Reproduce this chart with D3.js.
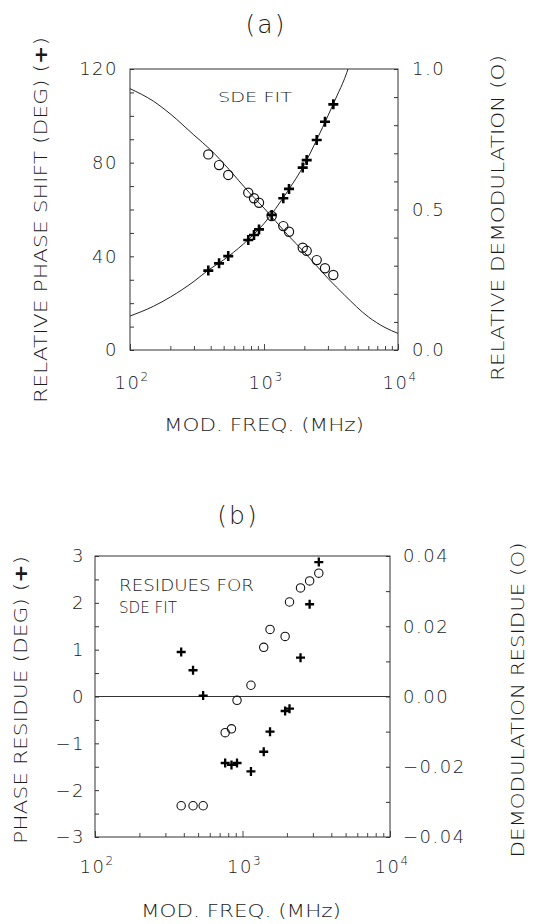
<!DOCTYPE html>
<html><head><meta charset="utf-8">
<script src="https://cdn.jsdelivr.net/npm/d3@7"></script>
<style>
html,body{margin:0;padding:0;background:#fff;}
svg{display:block;background:#fff;}
text{font-family:"DejaVu Sans","Liberation Sans",sans-serif;font-weight:200;fill:#1a1a1a;}
</style></head><body>
<svg id="chart" width="535" height="924"></svg>
<script>
// ---------- data ----------
const freqMHz        = [384, 462, 541, 763, 842, 918, 1141, 1393, 1537, 1945, 2083, 2474, 2852, 3291];
const phaseShiftDeg  = [33.9, 37.0, 40.1, 47.0, 49.1, 51.5, 57.7, 64.8, 68.8, 77.9, 81.1, 89.7, 97.5, 104.9];
const relDemod       = [0.696, 0.658, 0.623, 0.560, 0.540, 0.524, 0.477, 0.441, 0.421, 0.364, 0.353, 0.320, 0.291, 0.267];

const phaseFitFreq   = [100, 150, 200, 300, 384, 500, 700, 1000, 1500, 2000, 2500, 3000, 3500, 4000, 4300];
const phaseFitDeg    = [14.5, 18.7, 22.6, 29.3, 34.1, 38.5, 45.2, 54.0, 67.8, 79.2, 90.3, 100.0, 108.5, 116.0, 121.0];
const demodFitFreq   = [100, 150, 200, 300, 400, 550, 770, 1000, 1500, 2000, 3000, 4000, 6000, 8000, 10000];
const demodFitVal    = [0.930, 0.885, 0.840, 0.765, 0.712, 0.642, 0.562, 0.505, 0.410, 0.348, 0.255, 0.195, 0.118, 0.080, 0.059];

const phaseResidueDeg = [0.95, 0.56, 0.02, -1.42, -1.46, -1.42, -1.60, -1.18, -0.75, -0.31, -0.26, 0.83, 1.97, 2.87];
const demodResidue    = [-0.0311, -0.0311, -0.0311, -0.0103, -0.0092, -0.0011, 0.0032, 0.0140, 0.0191, 0.0171, 0.0269, 0.0309, 0.0329, 0.0351];

const xTickExponents     = [2, 3, 4];
const phaseTickLabels    = [0, 40, 80, 120];
const demodTickLabels    = ["0.0", "0.5", "1.0"];
const phaseResTickLabels = [-3, -2, -1, 0, 1, 2, 3];
const demodResTickLabels = ["-0.04", "-0.02", "0.00", "0.02", "0.04"];

// ---------- drawing ----------
const svg = d3.select("#chart");
const minus = s => String(s).replace("-", "\u2212");
const logMinor = [];
for (let e = 2; e <= 3; e++) for (let m = 1; m <= 9; m++) logMinor.push(m * Math.pow(10, e));
logMinor.push(10000);

function plusPath(h){ return `M${-h},0H${h}M0,${-h}V${h}`; }

function frame(g, x0, x1, y0, y1){
  g.append("rect").attr("x", x0).attr("y", y0).attr("width", x1 - x0).attr("height", y1 - y0)
    .attr("fill", "none").attr("stroke", "#333").attr("stroke-width", 1);
}

function bottomLog(g, x, y1){
  const ax = d3.axisBottom(x).tickValues(logMinor).tickSize(0).tickFormat("");
  const a = g.append("g").attr("transform", `translate(0,${y1})`).call(ax);
  a.select(".domain").remove();
  a.selectAll(".tick line").attr("y2", d => (Math.log10(d) % 1 === 0) ? -6 : -4)
    .attr("stroke", "#333").attr("stroke-width", 0.9);
}

function expLabels(g, x, baseY){
  xTickExponents.forEach(e => {
    const t = g.append("text").attr("x", x(Math.pow(10, e)) + 2).attr("y", baseY)
      .attr("text-anchor", "middle").style("font-size", "18px").style("letter-spacing", "1.5px");
    t.append("tspan").text("10");
    t.append("tspan").attr("dy", -8).style("font-size", "12px").text(e);
  });
}

function rotTitle(g, x, y, main, len, size){
  const t = g.append("text").attr("transform", `translate(${x},${y}) rotate(-90)`)
    .attr("text-anchor", "middle").attr("dy", "0.36em").style("font-size", size + "px")
    .attr("textLength", len).attr("lengthAdjust", "spacingAndGlyphs");
  main.forEach(p => {
    const s = t.append("tspan").text(p.t);
    if (p.b) s.style("font-weight", "700");
  });
}

// ======== Panel (a) ========
{
  const X0 = 130, X1 = 398, Y0 = 69, Y1 = 350;
  const g = svg.append("g");
  const x = d3.scaleLog().domain([100, 10000]).range([X0, X1]);
  const yL = d3.scaleLinear().domain([0, 120]).range([Y1, Y0]);
  const yR = d3.scaleLinear().domain([0, 1]).range([Y1, Y0]);

  svg.append("defs").append("clipPath").attr("id", "clipA")
    .append("rect").attr("x", X0).attr("y", Y0).attr("width", X1 - X0).attr("height", Y1 - Y0);

  frame(g, X0, X1, Y0, Y1);
  const la = g.append("g").attr("transform", `translate(${X0},0)`)
    .call(d3.axisLeft(yL).tickValues(d3.range(0, 121, 10)).tickSize(-4).tickFormat(""));
  la.select(".domain").remove(); la.selectAll("line").attr("stroke", "#333");
  const ra = g.append("g").attr("transform", `translate(${X1},0)`)
    .call(d3.axisRight(yR).tickValues(d3.range(0, 1.001, 0.1)).tickSize(-4).tickFormat(""));
  ra.select(".domain").remove(); ra.selectAll("line").attr("stroke", "#333");
  bottomLog(g, x, Y1);

  phaseTickLabels.forEach(v => g.append("text").attr("x", X0 - 12).attr("y", yL(v)).attr("dy", "0.36em")
    .attr("text-anchor", "end").style("font-size", "18px").style("letter-spacing", "1.5px").text(v));
  demodTickLabels.forEach(v => g.append("text").attr("x", X1 + 14).attr("y", yR(+v)).attr("dy", "0.36em")
    .attr("text-anchor", "start").style("font-size", "18px").style("letter-spacing", "1.5px").text(v));
  expLabels(g, x, 389);

  g.append("text").attr("x", 266).attr("y", 33).attr("text-anchor", "middle")
    .style("font-size", "25px").style("letter-spacing", "2px").text("(a)");
  rotTitle(g, 41, 220, [{t: "RELATIVE PHASE SHIFT (DEG) ("}, {t: "+", b: true}, {t: ")"}], 366, 18);
  rotTitle(g, 498, 218, [{t: "RELATIVE DEMODULATION (O)"}], 326, 18);
  g.append("text").attr("x", 264).attr("y", 431).attr("text-anchor", "middle")
    .style("font-size", "17px").attr("textLength", 200).attr("lengthAdjust", "spacingAndGlyphs")
    .text("MOD. FREQ. (MHz)");
  g.append("text").attr("x", 218).attr("y", 102).attr("text-anchor", "start")
    .style("font-size", "14px").attr("textLength", 74).attr("lengthAdjust", "spacingAndGlyphs")
    .text("SDE  FIT");

  const cg = g.append("g").attr("clip-path", "url(#clipA)");
  const phaseLine = d3.line().x(d => x(d[0])).y(d => yL(d[1])).curve(d3.curveMonotoneX);
  const demodLine = d3.line().x(d => x(d[0])).y(d => yR(d[1])).curve(d3.curveMonotoneX);
  cg.append("path").attr("d", phaseLine(d3.zip(phaseFitFreq, phaseFitDeg)))
    .attr("fill", "none").attr("stroke", "#222").attr("stroke-width", 1);
  cg.append("path").attr("d", demodLine(d3.zip(demodFitFreq, demodFitVal)))
    .attr("fill", "none").attr("stroke", "#222").attr("stroke-width", 1);

  g.selectAll(".circA").data(d3.zip(freqMHz, relDemod)).join("circle")
    .attr("cx", d => x(d[0])).attr("cy", d => yR(d[1])).attr("r", 4.6)
    .attr("fill", "none").attr("stroke", "#111").attr("stroke-width", 1.2);
  g.selectAll(".plusA").data(d3.zip(freqMHz, phaseShiftDeg)).join("path")
    .attr("transform", d => `translate(${x(d[0])},${yL(d[1])})`)
    .attr("d", plusPath(5)).attr("stroke", "#000").attr("stroke-width", 2.6).attr("fill", "none");
}

// ======== Panel (b) ========
{
  const X0 = 95, X1 = 390, Y0 = 556, Y1 = 837;
  const g = svg.append("g");
  const x = d3.scaleLog().domain([100, 10000]).range([X0, X1]);
  const yL = d3.scaleLinear().domain([-3, 3]).range([Y1, Y0]);
  const yR = d3.scaleLinear().domain([-0.04, 0.04]).range([Y1, Y0]);

  frame(g, X0, X1, Y0, Y1);
  const la = g.append("g").attr("transform", `translate(${X0},0)`)
    .call(d3.axisLeft(yL).tickValues(d3.range(-3, 3.001, 0.5)).tickSize(-4).tickFormat(""));
  la.select(".domain").remove(); la.selectAll("line").attr("stroke", "#333");
  const ra = g.append("g").attr("transform", `translate(${X1},0)`)
    .call(d3.axisRight(yR).tickValues(d3.range(-0.04, 0.0401, 0.01)).tickSize(-4).tickFormat(""));
  ra.select(".domain").remove(); ra.selectAll("line").attr("stroke", "#333");
  bottomLog(g, x, Y1);

  g.append("line").attr("x1", X0).attr("x2", X1).attr("y1", yL(0)).attr("y2", yL(0))
    .attr("stroke", "#333").attr("stroke-width", 1);

  phaseResTickLabels.forEach(v => g.append("text").attr("x", X0 - 10).attr("y", yL(v)).attr("dy", "0.36em")
    .attr("text-anchor", "end").style("font-size", "18px").style("letter-spacing", "1.5px").text(minus(v)));
  demodResTickLabels.forEach(v => g.append("text").attr("x", X1 + 13).attr("y", yR(+v)).attr("dy", "0.36em")
    .attr("text-anchor", "start").style("font-size", "18px").style("letter-spacing", "1.5px").text(minus(v)));
  expLabels(g, x, 873);

  g.append("text").attr("x", 238).attr("y", 524).attr("text-anchor", "middle")
    .style("font-size", "25px").style("letter-spacing", "2px").text("(b)");
  rotTitle(g, 21, 700, [{t: "PHASE RESIDUE (DEG) ("}, {t: "+", b: true}, {t: ")"}], 288, 18);
  rotTitle(g, 518, 700, [{t: "DEMODULATION RESIDUE (O)"}], 315, 18);
  g.append("text").attr("x", 241).attr("y", 917).attr("text-anchor", "middle")
    .style("font-size", "17px").attr("textLength", 200).attr("lengthAdjust", "spacingAndGlyphs")
    .text("MOD. FREQ. (MHz)");
  g.append("text").attr("x", 119).attr("y", 591).style("font-size", "16px")
    .attr("textLength", 135).attr("lengthAdjust", "spacingAndGlyphs").text("RESIDUES FOR");
  g.append("text").attr("x", 119).attr("y", 613).style("font-size", "16px")
    .attr("textLength", 58).attr("lengthAdjust", "spacingAndGlyphs").text("SDE FIT");

  g.selectAll(".circB").data(d3.zip(freqMHz, demodResidue)).join("circle")
    .attr("cx", d => x(d[0])).attr("cy", d => yR(d[1])).attr("r", 4.2)
    .attr("fill", "none").attr("stroke", "#111").attr("stroke-width", 1.1);
  g.selectAll(".plusB").data(d3.zip(freqMHz, phaseResidueDeg)).join("path")
    .attr("transform", d => `translate(${x(d[0])},${yL(d[1])})`)
    .attr("d", plusPath(4.5)).attr("stroke", "#000").attr("stroke-width", 2.3).attr("fill", "none");
}
</script>
</body></html>
